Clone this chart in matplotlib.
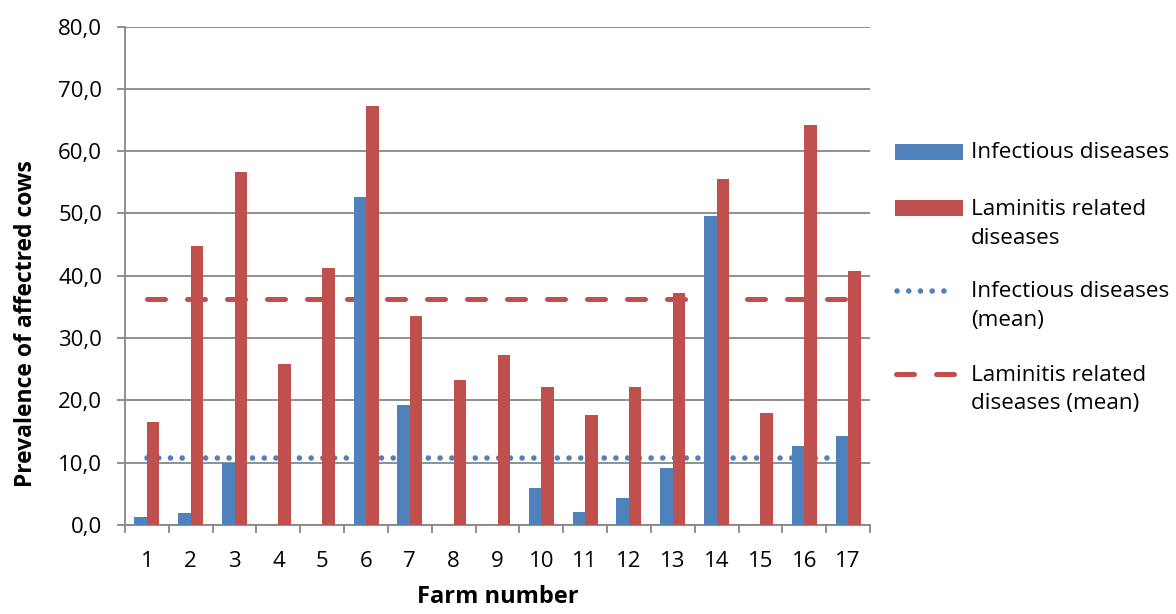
import numpy as np
import matplotlib.pyplot as plt
from matplotlib.patches import Rectangle
from matplotlib.lines import Line2D
from matplotlib.ticker import FuncFormatter, FixedLocator

plt.rcParams['font.family'] = ['Open Sans', 'DejaVu Sans']

farms = [str(i) for i in range(1, 18)]
infectious = [1.3, 2.0, 9.9, 0.0, 0.0, 52.7, 19.2, 0.0, 0.0, 6.0, 2.1, 4.3, 9.1, 49.6, 0.0, 12.7, 14.3]
laminitis = [16.5, 44.7, 56.7, 25.9, 41.3, 67.2, 33.6, 23.2, 27.3, 22.1, 17.7, 22.1, 37.2, 55.6, 17.9, 64.2, 40.7]
infectious_mean = 10.75
laminitis_mean = 36.2

legend_labels = ['Infectious diseases', 'Laminitis related\ndiseases',
                 'Infectious diseases\n(mean)', 'Laminitis related\ndiseases (mean)']

blue = '#4F81BD'
red = '#C0504D'
grid_c = '#878787'
lw = 3.6
lw_dot = 4.0
dot_style = (0, (0.01, 8.4 / lw_dot))
dash_style = (0, (3.6, 4.4))

W, H = 1176, 614
fig = plt.figure(figsize=(W / 100, H / 100), dpi=100)
ax = fig.add_axes([125 / W, 1 - 525 / H, 745 / W, 498.5 / H])

x = np.arange(len(farms))
w = 0.285
ax.bar(x - w / 2, infectious, width=w, color=blue, zorder=3)
ax.bar(x + w / 2, laminitis, width=w, color=red, zorder=3)
ax.plot(x, [infectious_mean] * len(x), color=blue, linestyle=dot_style,
        linewidth=lw_dot, dash_capstyle='round', zorder=2)
ax.plot(x, [laminitis_mean] * len(x), color=red, linestyle=dash_style,
        linewidth=lw, dash_capstyle='round', zorder=2)

ax.set_xlim(-0.5, len(farms) - 0.5)
ax.set_ylim(0, 80)
ax.set_yticks(np.arange(0, 81, 10))
ax.yaxis.set_major_formatter(FuncFormatter(lambda v, p: f"{v:.1f}".replace('.', ',')))
ax.set_xticks(x)
ax.set_xticklabels(farms)
ax.xaxis.set_minor_locator(FixedLocator(np.arange(-0.5, len(farms), 1)))
ax.tick_params(axis='x', which='major', length=0, labelsize=16, pad=19)
ax.tick_params(axis='x', which='minor', length=6, width=1.3, color=grid_c, direction='out')
ax.tick_params(axis='y', length=6, width=1.3, color=grid_c, labelsize=16, pad=10.5)

ax.grid(axis='y', color=grid_c, linewidth=1.3, zorder=0)
for s in ['top', 'right']:
    ax.spines[s].set_visible(False)
for s in ['left', 'bottom']:
    ax.spines[s].set_color(grid_c)
    ax.spines[s].set_linewidth(1.3)

ax.set_xlabel('Farm number', fontsize=17, fontweight='bold', labelpad=9)
ax.set_ylabel('Prevalence of affectred cows', fontsize=16.5, fontweight='bold')
ax.yaxis.set_label_coords((38 - 125) / 745, (525 - 324) / 498.5)


# legend drawn by hand, Excel style (handle next to first text line)
def fx(px):
    return px / W


def fy(py):
    return 1 - py / H


text_x = fx(971)
fig.add_artist(Rectangle((fx(895), fy(160)), 68 / W, 16 / H, facecolor=blue,
                         edgecolor='none', transform=fig.transFigure))
fig.text(text_x, fy(152), legend_labels[0], fontsize=16.2, va='center')

fig.add_artist(Rectangle((fx(895), fy(216)), 68 / W, 16 / H, facecolor=red,
                         edgecolor='none', transform=fig.transFigure))
fig.text(text_x, fy(224), legend_labels[1], fontsize=16.2, va='center', linespacing=1.45)

fig.add_artist(Line2D([fx(896.5), fx(955)], [fy(291), fy(291)], color=blue,
                      linestyle=dot_style, linewidth=lw_dot, dash_capstyle='round',
                      transform=fig.transFigure))
fig.text(text_x, fy(306), legend_labels[2], fontsize=16.2, va='center', linespacing=1.45)

fig.add_artist(Line2D([fx(896), fx(954)], [fy(374), fy(374)], color=red,
                      linestyle=dash_style, linewidth=lw, dash_capstyle='round',
                      transform=fig.transFigure))
fig.text(text_x, fy(389.5), legend_labels[3], fontsize=16.2, va='center', linespacing=1.45)

fig.savefig('out.png', dpi=100)
